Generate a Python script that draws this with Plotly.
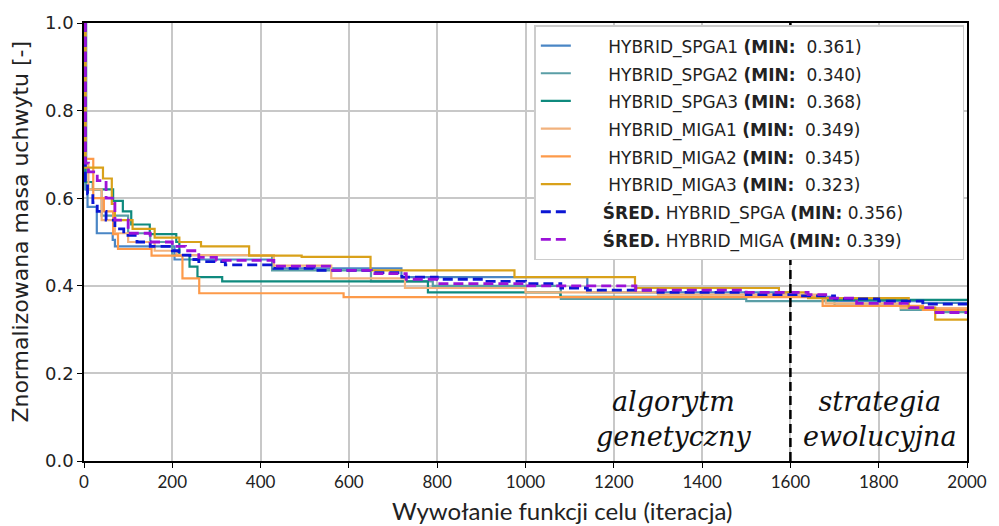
import plotly.graph_objects as go

# ---- data (step points: value holds from x onward) ----
spga1_x = [0, 3, 8, 29, 65, 70, 205, 430, 719, 1140, 1600, 1700, 1900, 2000]
spga1_y = [1.0, 0.62, 0.58, 0.52, 0.505, 0.49, 0.46, 0.44, 0.42, 0.385, 0.375, 0.365, 0.361, 0.361]

spga2_x = [0, 5, 40, 100, 150, 200, 426, 650, 790, 1080, 1500, 1700, 1850, 1950, 2000]
spga2_y = [1.0, 0.62, 0.56, 0.52, 0.50, 0.47, 0.435, 0.41, 0.40, 0.37, 0.365, 0.355, 0.345, 0.34, 0.34]

spga3_x = [0, 3, 20, 66, 88, 107, 149, 209, 216, 239, 257, 313, 779, 1079, 1680, 2000]
spga3_y = [1.0, 0.637, 0.62, 0.594, 0.57, 0.54, 0.518, 0.50, 0.47, 0.444, 0.42, 0.41, 0.385, 0.375, 0.368, 0.368]

miga1_x = [0, 3, 10, 40, 70, 100, 160, 210, 430, 560, 727, 1000, 1300, 1680, 1850, 2000]
miga1_y = [1.0, 0.68, 0.62, 0.55, 0.52, 0.50, 0.48, 0.47, 0.446, 0.417, 0.395, 0.385, 0.38, 0.36, 0.349, 0.349]

miga2_x = [0, 3, 21, 45, 66, 77, 153, 223, 261, 588, 1673, 1900, 2000]
miga2_y = [1.0, 0.69, 0.60, 0.57, 0.518, 0.484, 0.469, 0.417, 0.383, 0.374, 0.354, 0.345, 0.345]

miga3_x = [0, 3, 43, 63, 70, 110, 160, 216, 265, 374, 493, 649, 975, 1248, 1574, 1640, 1868, 1928, 2000]
miga3_y = [1.0, 0.67, 0.645, 0.587, 0.55, 0.53, 0.51, 0.50, 0.49, 0.469, 0.466, 0.435, 0.42, 0.395, 0.385, 0.372, 0.35, 0.323, 0.323]

avg_spga_x = [0, 3, 8, 20, 30, 50, 70, 90, 120, 150, 200, 215, 240, 260, 320, 430, 520, 650, 720, 800, 900, 1000, 1080, 1140, 1300, 1500, 1620, 1700, 1800, 1900, 2000]
avg_spga_y = [1.0, 0.64, 0.61, 0.59, 0.57, 0.55, 0.53, 0.515, 0.50, 0.49, 0.48, 0.47, 0.46, 0.455, 0.448, 0.44, 0.435, 0.43, 0.42, 0.415, 0.41, 0.405, 0.395, 0.39, 0.385, 0.38, 0.377, 0.37, 0.365, 0.358, 0.356]

avg_miga_x = [0, 3, 10, 30, 50, 70, 100, 150, 200, 230, 260, 300, 430, 560, 650, 730, 800, 1000, 1250, 1500, 1640, 1680, 1750, 1870, 1930, 2000]
avg_miga_y = [1.0, 0.68, 0.66, 0.64, 0.60, 0.55, 0.52, 0.50, 0.49, 0.48, 0.465, 0.458, 0.445, 0.435, 0.428, 0.415, 0.405, 0.40, 0.39, 0.385, 0.38, 0.372, 0.36, 0.35, 0.339, 0.339]

names = ["HYBRID_SPGA1", "HYBRID_SPGA2", "HYBRID_SPGA3",
         "HYBRID_MIGA1", "HYBRID_MIGA2", "HYBRID_MIGA3",
         "ŚRED. HYBRID_SPGA", "ŚRED. HYBRID_MIGA"]
mins = ["0.361", "0.340", "0.368", "0.349", "0.345", "0.323", "0.356", "0.339"]
colors = ["#4a86c5", "#5a9ea6", "#0f8a7e", "#f2b27d", "#fd9a4a", "#d9a11a", "#0b16d4", "#9b12d8"]

series = [(spga1_x, spga1_y), (spga2_x, spga2_y), (spga3_x, spga3_y),
          (miga1_x, miga1_y), (miga2_x, miga2_y), (miga3_x, miga3_y),
          (avg_spga_x, avg_spga_y), (avg_miga_x, avg_miga_y)]

NB = "\u00a0"
fig = go.Figure()
for i, ((xs, ys), nm, mn, col) in enumerate(zip(series, names, mins, colors)):
    dashed = i >= 6
    if dashed:
        a, b = nm.split(" ")
        body = NB * 5 + "<b>" + a + "</b> " + b + " <b>(MIN:</b> " + mn + ")"
        if i == 6:
            body += NB * 10
    else:
        body = NB * 6 + nm + " <b>(MIN:</b>" + NB * 2 + mn + ")"
    label = "<span style='font-size:17px'>" + body + "</span>"
    fig.add_trace(go.Scatter(
        x=xs, y=ys, mode="lines", name=label,
        line=dict(color=col, width=2.8 if dashed else 2.2, shape="hv",
                  dash="10px,5px" if dashed else "solid"),
    ))

# vertical separator at 1600
fig.add_shape(type="line", x0=1600, x1=1600, y0=0, y1=1, xref="x", yref="y",
              line=dict(color="black", width=2.5, dash="9px,5px"))

ann_font = dict(family="DejaVu Serif", size=27, color="#111")
fig.add_annotation(x=1335, y=0.097, xref="x", yref="y", showarrow=False,
                   text="<i>algorytm<br>genetyczny</i>", font=ann_font, align="center")
fig.add_annotation(x=1802, y=0.097, xref="x", yref="y", showarrow=False,
                   text="<i>strategia<br>ewolucyjna</i>", font=ann_font, align="center")

# axis titles (placed as in the reference)
fig.add_annotation(x=0.5417, y=-0.112, xref="paper", yref="paper", showarrow=False,
                   text="Wywołanie funkcji celu (iteracja)",
                   font=dict(family="Lato", size=24, color="#222"),
                   xanchor="center", yanchor="middle")
fig.add_annotation(x=-0.072, y=0.5247, xref="paper", yref="paper", showarrow=False,
                   text="Znormalizowana masa uchwytu [-]", textangle=-90,
                   font=dict(family="DejaVu Sans", size=22, color="#222"),
                   xanchor="center", yanchor="middle")

fig.update_layout(
    width=999, height=526,
    margin=dict(l=84, r=27, t=15, b=65),
    paper_bgcolor="white", plot_bgcolor="white",
    font=dict(family="DejaVu Sans", size=15, color="#222"),
    showlegend=True,
    legend=dict(x=0.51, y=0.995, xanchor="left", yanchor="top",
                bgcolor="white", bordercolor="#cccccc", borderwidth=1.5,
                font=dict(family="DejaVu Sans", size=19, color="#222"),
                tracegroupgap=0),
)
fig.update_xaxes(range=[0, 2000], tickvals=list(range(0, 2001, 200)),
                 showgrid=True, gridcolor="#c8c8c8", gridwidth=1.5,
                 showline=True, linecolor="black", linewidth=1.5, mirror=True,
                 ticks="outside", ticklen=5, tickcolor="black",
                 tickfont=dict(family="Lato", size=17, color="#222"),
                 zeroline=False)
fig.update_yaxes(range=[0, 1], tickvals=[0, 0.2, 0.4, 0.6, 0.8, 1.0],
                 ticktext=["0.0", "0.2", "0.4", "0.6", "0.8", "1.0"],
                 showgrid=True, gridcolor="#c8c8c8", gridwidth=1.5,
                 showline=True, linecolor="black", linewidth=1.5, mirror=True,
                 ticks="outside", ticklen=5, tickcolor="black",
                 tickfont=dict(family="DejaVu Sans", size=18, color="#222"),
                 zeroline=False)

fig.write_html("out.html")
